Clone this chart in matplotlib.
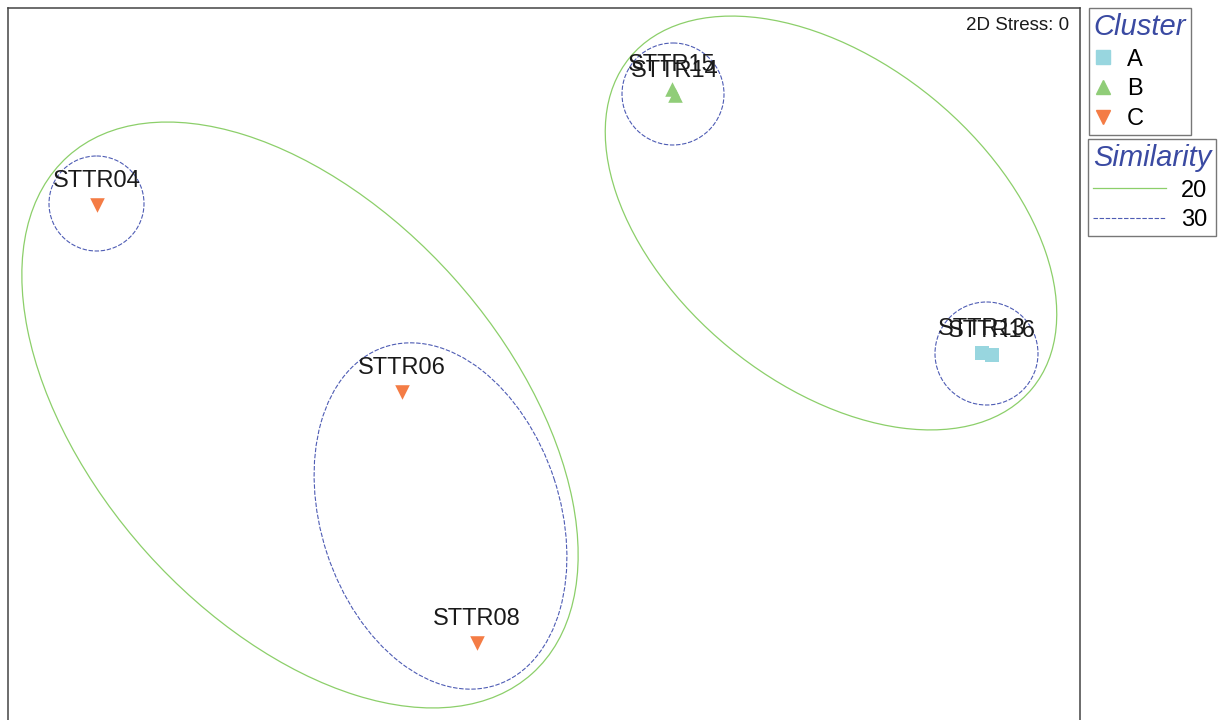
import matplotlib
matplotlib.use('Agg')
import matplotlib.pyplot as plt
from matplotlib.patches import Ellipse, Circle
from matplotlib.lines import Line2D

plt.rcParams['font.family'] = ['Liberation Sans', 'DejaVu Sans']

#--sample positions (MDS plane, screen units, y grows downward)
samples = ['STTR04', 'STTR06', 'STTR08', 'STTR14', 'STTR15', 'STTR13', 'STTR16']
xs      = [97, 402, 477, 675, 672, 982, 992]
ys      = [205, 392, 643, 95, 89, 353, 355]
cluster = ['C', 'C', 'C', 'B', 'B', 'A', 'A']

groups  = ['A', 'B', 'C']
markers = {'A': 's', 'B': '^', 'C': 'v'}
colors  = {'A': '#98d6df', 'B': '#90cd78', 'C': '#f47c45'}

#--similarity contours: (cx, cy, width, height, angle)
sim20 = [(300, 415, 695, 412, 48.1), (831, 223, 521, 322, 39.4)]
sim30 = [(96.5, 203.5, 95, 95, 0), (673, 94, 102, 102, 0),
         (986.5, 353.5, 103, 103, 0), (440.5, 516, 356, 239, 71.8)]
sim_levels = ['20', '30']

green = '#8ccf6a'
blue  = '#4e5cb4'
tcol  = '#3a4aa2'

fig = plt.figure(figsize=(12.22, 7.2), dpi=100)
ax = fig.add_axes([8/1222, -5/720, 1072/1222, 717/720])
ax.set_xlim(8, 1080)
ax.set_ylim(725, 8)
ax.set_xticks([])
ax.set_yticks([])
for s in ['left', 'top', 'right']:
    ax.spines[s].set_color('#444444')
    ax.spines[s].set_linewidth(1.1)
ax.spines['bottom'].set_visible(False)

for (cx, cy, w, h, a) in sim20:
    ax.add_patch(Ellipse((cx, cy), w, h, angle=a, fill=False, ec=green, lw=0.9))
for (cx, cy, w, h, a) in sim30:
    ax.add_patch(Ellipse((cx, cy), w, h, angle=a, fill=False, ec=blue, lw=0.8,
                         ls=(0, (4, 1.5))))

for g in groups:
    px = [x for x, c in zip(xs, cluster) if c == g]
    py = [y for y, c in zip(ys, cluster) if c == g]
    ax.scatter(px, py, marker=markers[g], color=colors[g], s=110, lw=0, zorder=3)

for name, x, y in zip(samples, xs, ys):
    ax.annotate(name, (x, y), xytext=(0, 17), textcoords='offset points',
                ha='center', va='center', fontsize=17, color='#1a1a1a', zorder=4)

ax.text(0.99, 0.975, '2D Stress: 0', transform=ax.transAxes, ha='right', va='center',
        fontsize=13.5, color='#1a1a1a')

h1 = [Line2D([], [], marker=markers[g], color=colors[g], ls='none', markersize=10)
      for g in groups]
leg1 = fig.legend(h1, groups, loc='upper left', bbox_to_anchor=(1089/1222, 1-8/720),
                  fontsize=17, title='Cluster', alignment='left',
                  title_fontproperties={'style': 'italic', 'size': 21},
                  frameon=True, fancybox=False, edgecolor='#555555',
                  handlelength=0.8, handletextpad=0.6, labelspacing=0.33,
                  borderpad=0.2, borderaxespad=0)
leg1.get_title().set_color(tcol)
leg1.get_frame().set_linewidth(1.0)

h2 = [Line2D([], [], color=green, lw=0.9),
      Line2D([], [], color=blue, lw=0.8, ls=(0, (4, 1.5)))]
leg2 = fig.legend(h2, sim_levels, loc='upper left', bbox_to_anchor=(1088/1222, 1-139/720),
                  fontsize=17, title='Similarity', alignment='left',
                  title_fontproperties={'style': 'italic', 'size': 21},
                  frameon=True, fancybox=False, edgecolor='#555555',
                  handlelength=3.1, handletextpad=0.65, labelspacing=0.33,
                  borderpad=0.2, borderaxespad=0)
leg2.get_title().set_color(tcol)
leg2.get_frame().set_linewidth(1.0)

fig.savefig('out.png', dpi=100)
